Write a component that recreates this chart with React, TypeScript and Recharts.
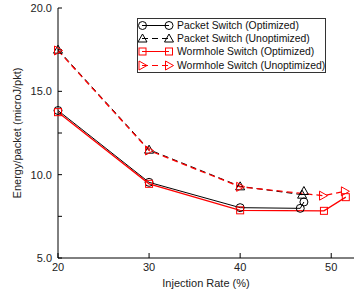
import React from "react";
import { LineChart, Line, XAxis, YAxis, Legend } from "recharts";

// injection rate (%) and energy per packet (microJ/pkt)
const packetOptX = [20, 30, 40, 46.6, 47.0];
const packetOptY = [13.85, 9.54, 8.02, 7.98, 8.36];
const packetUnoptX = [20, 30, 40, 46.8, 47.0];
const packetUnoptY = [17.5, 11.5, 9.3, 8.8, 9.02];
const wormOptX = [20, 30, 40, 49.2, 51.6];
const wormOptY = [13.75, 9.45, 7.86, 7.83, 8.65];
const wormUnoptX = [20, 30, 40, 49.1, 51.5];
const wormUnoptY = [17.45, 11.45, 9.27, 8.74, 9.0];

const xTicks = [20, 30, 40, 50];
const yTicks = [5, 7.5, 10, 12.5, 15, 17.5, 20];

const FONT = "'Liberation Sans', Arial, sans-serif";

type Marker = "circle" | "triangle" | "square" | "rtriangle";

const toRows = (xs: number[], ys: number[]) => xs.map((x, i) => ({ x, y: ys[i] }));

const series = [
  { name: "Packet Switch (Optimized)", color: "#000000", dash: undefined, marker: "circle" as Marker, data: toRows(packetOptX, packetOptY) },
  { name: "Packet Switch (Unoptimized)", color: "#000000", dash: "6 4", marker: "triangle" as Marker, data: toRows(packetUnoptX, packetUnoptY) },
  { name: "Wormhole Switch (Optimized)", color: "#ff0000", dash: undefined, marker: "square" as Marker, data: toRows(wormOptX, wormOptY) },
  { name: "Wormhole Switch (Unoptimized)", color: "#ff0000", dash: "6 4", marker: "rtriangle" as Marker, data: toRows(wormUnoptX, wormUnoptY) },
];

const drawMarker = (marker: Marker, cx: number, cy: number, color: string, key?: string) => {
  const p = { fill: "none", stroke: color, strokeWidth: 1 };
  if (marker === "circle") return <circle key={key} cx={cx} cy={cy} r={4} {...p} />;
  if (marker === "square") return <rect key={key} x={cx - 3.5} y={cy - 3.5} width={7} height={7} {...p} />;
  if (marker === "triangle")
    return <polygon key={key} points={`${cx},${cy - 4.5} ${cx - 4.5},${cy + 3.5} ${cx + 4.5},${cy + 3.5}`} {...p} />;
  return <polygon key={key} points={`${cx + 4.5},${cy} ${cx - 3.5},${cy - 4.5} ${cx - 3.5},${cy + 4.5}`} {...p} />;
};

const renderLegend = () => (
  <div
    style={{
      border: "1px solid #333",
      background: "#fff",
      fontFamily: FONT,
      fontSize: 10.4,
      color: "#111",
      width: 189,
      boxSizing: "border-box",
      overflow: "hidden",
    }}
  >
    {series.map((s) => (
      <div key={s.name} style={{ display: "flex", alignItems: "center", height: 13.2, whiteSpace: "nowrap" }}>
        <svg width={39} height={13} style={{ flex: "none" }}>
          <line x1={4} y1={6.5} x2={31} y2={6.5} stroke={s.color} strokeDasharray={s.dash} />
          {drawMarker(s.marker, 4.5, 6.5, s.color)}
          {drawMarker(s.marker, 31, 6.5, s.color)}
        </svg>
        <span>{s.name}</span>
      </div>
    ))}
  </div>
);

const YLabel = (props: any) => {
  const vb = props.viewBox || { x: 0, y: 0, height: 0 };
  const cx = vb.x + 17;
  const cy = vb.y + vb.height / 2;
  return (
    <text x={cx} y={cy} transform={`rotate(-90 ${cx} ${cy})`} textAnchor="middle" dominantBaseline="central"
      fontFamily={FONT} fontSize={11} fill="#222">
      Energy/packet (microJ/pkt)
    </text>
  );
};

export default function App() {
  return (
    <div style={{ position: "absolute", left: 0, top: 0 }}>
      <LineChart width={354} height={295} margin={{ top: 8, right: 0, bottom: 0, left: 0 }}>
        <XAxis
          dataKey="x"
          type="number"
          domain={[20, 52.5]}
          ticks={xTicks}
          interval={0}
          height={37}
          stroke="#000"
          tickSize={-5}
          tickMargin={10}
          tick={{ fontFamily: FONT, fontSize: 11, fill: "#222" }}
          label={{ value: "Injection Rate (%)", position: "insideBottom", offset: 8, fontFamily: FONT, fontSize: 11, fill: "#222" }}
        />
        <XAxis
          xAxisId="top"
          orientation="top"
          dataKey="x"
          type="number"
          domain={[20, 52.5]}
          ticks={xTicks}
          interval={0}
          height={0}
          stroke="#000"
          tickSize={-5}
          tick={false}
        />
        <YAxis
          type="number"
          domain={[5, 20]}
          ticks={yTicks}
          interval={0}
          width={58}
          stroke="#000"
          tickSize={-4}
          tickMargin={10}
          tickFormatter={(v: number) => (v % 5 === 0 ? v.toFixed(1) : "")}
          tick={{ fontFamily: FONT, fontSize: 11, fill: "#222" }}
          label={<YLabel />}
        />
        <Legend layout="vertical" align="center" verticalAlign="middle" wrapperStyle={{ left: 137, top: 18, width: 189 }} content={renderLegend} />
        {series.map((s) => (
          <Line
            key={s.name}
            name={s.name}
            data={s.data}
            dataKey="y"
            type="linear"
            stroke={s.color}
            strokeWidth={s.color === "#ff0000" ? 1.3 : 1}
            strokeDasharray={s.dash}
            isAnimationActive={false}
            activeDot={false}
            dot={(p: any) => drawMarker(s.marker, p.cx, p.cy, s.color, `${s.name}-${p.index}`)}
          />
        ))}
      </LineChart>
    </div>
  );
}
